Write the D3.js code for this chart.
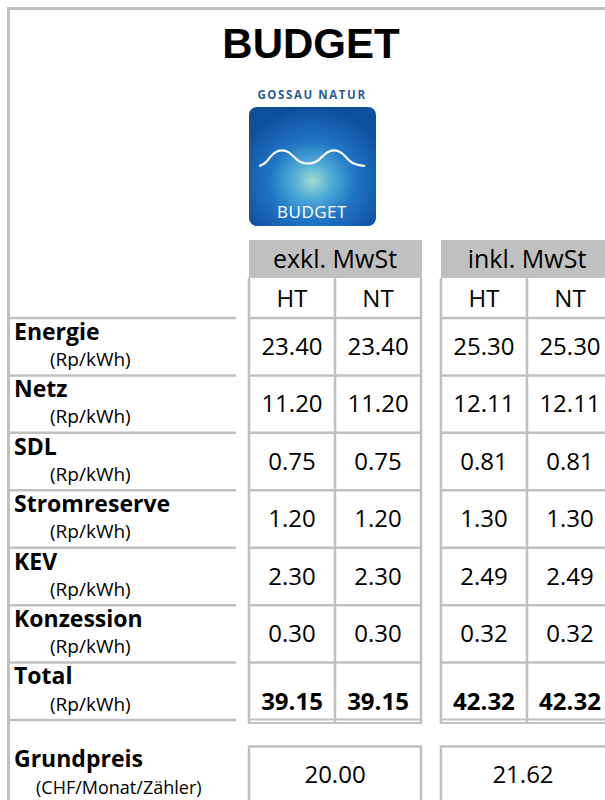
<!DOCTYPE html>
<html>
<head>
<meta charset="utf-8">
<script src="https://d3js.org/d3.v7.min.js"></script>
<style>
  body { margin: 0; background: #fff; }
  text { font-family: "Open Sans", sans-serif; fill: #000; }
</style>
</head>
<body>
<script>

var width = 605, height = 800;
var lineColor = "#c0c0c0";

// data
var categories = ["Energie", "Netz", "SDL", "Stromreserve", "KEV", "Konzession"];
var unit = "(Rp/kWh)";
var groups = ["exkl. MwSt", "inkl. MwSt"];
var tariffs = ["HT", "NT"];
var exklHT = [23.40, 11.20, 0.75, 1.20, 2.30, 0.30];
var exklNT = [23.40, 11.20, 0.75, 1.20, 2.30, 0.30];
var inklHT = [25.30, 12.11, 0.81, 1.30, 2.49, 0.32];
var inklNT = [25.30, 12.11, 0.81, 1.30, 2.49, 0.32];
var totals = [39.15, 39.15, 42.32, 42.32];   // exkl HT, exkl NT, inkl HT, inkl NT
var grundpreis = [20.00, 21.62];             // exkl, inkl

var fmt = d3.format(".2f");
var series = [exklHT, exklNT, inklHT, inklNT];

var svg = d3.select("body").append("svg")
  .attr("width", width)
  .attr("height", height);

// scales
var rowNames = categories.concat(["Total"]);
var y = d3.scaleBand().domain(rowNames).range([318, 720]);
var gx = d3.scaleBand().domain(groups).range([249, 613]).paddingInner(0.104).paddingOuter(0);
var cx = d3.scaleBand().domain(tariffs).range([0, gx.bandwidth()]);

// outer frame
svg.append("line").attr("x1", 8.5).attr("x2", 8.5).attr("y1", 7).attr("y2", height)
  .attr("stroke", lineColor).attr("stroke-width", 3);
svg.append("line").attr("x1", 7).attr("x2", width).attr("y1", 8.5).attr("y2", 8.5)
  .attr("stroke", lineColor).attr("stroke-width", 3);

// title
svg.append("text")
  .attr("x", 311).attr("y", 58)
  .attr("text-anchor", "middle")
  .style("font-family", "'Liberation Sans', Arial, sans-serif")
  .style("font-weight", "bold")
  .style("font-size", "42px")
  .text("BUDGET");

// logo
var defs = svg.append("defs");
var grad = defs.append("radialGradient").attr("id", "logoGrad")
  .attr("cx", "50%").attr("cy", "62%").attr("r", "62%");
grad.append("stop").attr("offset", "0%").attr("stop-color", "#a9dccf");
grad.append("stop").attr("offset", "22%").attr("stop-color", "#55b0d8");
grad.append("stop").attr("offset", "55%").attr("stop-color", "#1f74c4");
grad.append("stop").attr("offset", "100%").attr("stop-color", "#0e4f9c");

svg.append("text")
  .attr("x", 312).attr("y", 99)
  .attr("text-anchor", "middle")
  .style("font-weight", "bold")
  .style("font-size", "11.5px")
  .style("letter-spacing", "1.6px")
  .style("fill", "#2a5b98")
  .text("GOSSAU NATUR");

svg.append("rect")
  .attr("x", 249).attr("y", 107).attr("width", 127).attr("height", 119)
  .attr("rx", 8).attr("ry", 8)
  .attr("fill", "url(#logoGrad)");

var wave = d3.line().curve(d3.curveBasis);
svg.append("path")
  .attr("d", wave([[259, 166], [266, 164], [274, 150], [290, 150], [298, 164],
                   [318, 164], [326, 150], [342, 150], [350, 164], [365, 166]]))
  .attr("fill", "none").attr("stroke", "#fff").attr("stroke-width", 2.2);

svg.append("text")
  .attr("x", 312).attr("y", 218)
  .attr("text-anchor", "middle")
  .style("font-size", "17px")
  .style("letter-spacing", "0.5px")
  .style("fill", "#fff")
  .text("BUDGET");

// left label column
rowNames.forEach(function(r) {
  svg.append("line")
    .attr("x1", 7).attr("x2", 236)
    .attr("y1", y(r)).attr("y2", y(r))
    .attr("stroke", lineColor).attr("stroke-width", 2.5);
});
svg.append("line")
  .attr("x1", 7).attr("x2", 236)
  .attr("y1", y.range()[1]).attr("y2", y.range()[1])
  .attr("stroke", lineColor).attr("stroke-width", 2.5);

rowNames.forEach(function(r) {
  var top = y(r);
  var isTotal = r === "Total";
  svg.append("text")
    .attr("x", 14).attr("y", top + (isTotal ? 21 : 22))
    .style("font-weight", "bold").style("font-size", "23px")
    .text(r);
  svg.append("text")
    .attr("x", 50).attr("y", top + (isTotal ? 48 : 48))
    .style("font-size", "19px")
    .text(unit);
});

svg.append("text")
  .attr("x", 14).attr("y", 767)
  .style("font-weight", "bold").style("font-size", "23px")
  .text("Grundpreis");
svg.append("text")
  .attr("x", 36).attr("y", 794)
  .style("font-size", "18px")
  .text("(CHF/Monat/Zähler)");

// data groups
groups.forEach(function(g, gi) {
  var x0 = gx(g), w = gx.bandwidth();
  var grp = svg.append("g").attr("transform", "translate(" + x0 + ",0)");

  // header band
  grp.append("rect")
    .attr("x", 0).attr("y", 240).attr("width", w + 1).attr("height", 38)
    .attr("fill", lineColor);
  grp.append("text")
    .attr("x", w / 2).attr("y", 268)
    .attr("text-anchor", "middle")
    .style("font-size", "25px")
    .text(g);

  // tariff header
  tariffs.forEach(function(t) {
    grp.append("text")
      .attr("x", cx(t) + cx.bandwidth() / 2).attr("y", 307)
      .attr("text-anchor", "middle")
      .style("font-size", "24px")
      .text(t);
  });

  // horizontal grid lines
  rowNames.forEach(function(r) {
    grp.append("line")
      .attr("x1", 0).attr("x2", w)
      .attr("y1", y(r)).attr("y2", y(r))
      .attr("stroke", lineColor).attr("stroke-width", 2.5);
  });
  // double line under total
  [719.5, 723].forEach(function(yy) {
    grp.append("line")
      .attr("x1", 0).attr("x2", w)
      .attr("y1", yy).attr("y2", yy)
      .attr("stroke", lineColor).attr("stroke-width", 2);
  });

  // vertical grid lines
  [0, cx.bandwidth(), w].forEach(function(xx) {
    grp.append("line")
      .attr("x1", xx).attr("x2", xx)
      .attr("y1", 278).attr("y2", 724)
      .attr("stroke", lineColor).attr("stroke-width", 2.5);
  });

  // values
  tariffs.forEach(function(t, ti) {
    var vals = series[gi * 2 + ti];
    grp.selectAll("text.v" + ti)
      .data(vals)
      .enter().append("text")
      .attr("class", "v" + ti)
      .attr("x", cx(t) + cx.bandwidth() / 2)
      .attr("y", function(d, i) { return y(categories[i]) + 37; })
      .attr("text-anchor", "middle")
      .style("font-size", "24px")
      .text(function(d) { return fmt(d); });

    grp.append("text")
      .attr("x", cx(t) + cx.bandwidth() / 2)
      .attr("y", y("Total") + 47)
      .attr("text-anchor", "middle")
      .style("font-size", "24px")
      .style("font-weight", "bold")
      .text(fmt(totals[gi * 2 + ti]));
  });

  // grundpreis box
  grp.append("rect")
    .attr("x", 0).attr("y", 746.5).attr("width", w).attr("height", 100)
    .attr("fill", "none")
    .attr("stroke", lineColor).attr("stroke-width", 2.5);
  grp.append("text")
    .attr("x", gi === 0 ? w / 2 : (width - x0) / 2)
    .attr("y", 783)
    .attr("text-anchor", "middle")
    .style("font-size", "24px")
    .text(fmt(grundpreis[gi]));
});

</script>
</body>
</html>
